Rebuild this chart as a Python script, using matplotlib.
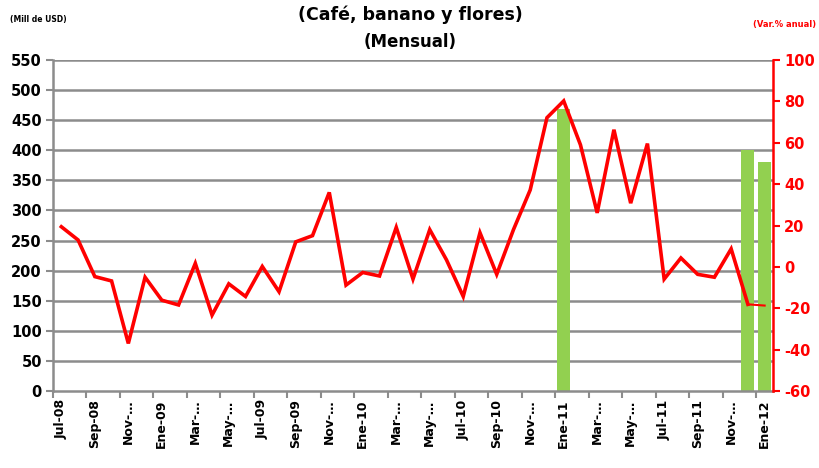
import numpy as np
import matplotlib
matplotlib.use("Agg")
import matplotlib.pyplot as plt
from matplotlib.ticker import FixedLocator

plt.rcParams["axes.unicode_minus"] = False

months = ["Jul-08","Ago-08","Sep-08","Oct-08","Nov-…","Dic-08","Ene-09","Feb-09","Mar-…","Abr-09",
          "May-…","Jun-09","Jul-09","Ago-09","Sep-09","Oct-09","Nov-…","Dic-09","Ene-10","Feb-10",
          "Mar-…","Abr-10","May-…","Jun-10","Jul-10","Ago-10","Sep-10","Oct-10","Nov-…","Dic-10",
          "Ene-11","Feb-11","Mar-…","Abr-11","May-…","Jun-11","Jul-11","Ago-11","Sep-11","Oct-11",
          "Nov-…","Dic-11","Ene-12"]

# Exports (Mill de USD) - only a few months shown as bars
exports = [np.nan]*30 + [469] + [np.nan]*10 + [400, 380]

# Annual variation (%)
var_anual = [19.4, 13.0, -4.7, -6.8, -37.0, -5.0, -16.1, -18.4, 1.7, -23.3,
             -8.2, -14.3, 0.2, -12.0, 12.1, 15.1, 36.0, -8.8, -2.7, -4.4,
             19.1, -5.9, 18.0, 3.4, -14.3, 16.5, -3.6, 18.0, 37.2, 72.1,
             80.2, 59.0, 26.1, 66.3, 30.8, 59.6, -5.9, 4.3, -3.6, -5.0,
             8.7, -18.1, -18.7]

left_ticks = list(range(0, 551, 50))
right_ticks = list(range(-60, 101, 20))

fig = plt.figure(figsize=(8.2, 4.68), dpi=100)
ax = fig.add_axes([0.0646, 0.1645, 0.8781, 0.7073])
x = np.arange(len(months))

grid_c = "#8c8c8c"
ax.set_ylim(0, 550)
ax.set_xlim(-0.5, len(months) - 0.5)
ax.set_yticks(left_ticks)
for t in left_ticks[1:]:
    ax.axhline(t, color=grid_c, lw=1.8, zorder=0)
ax.bar(x, exports, width=0.78, color="#92D050", zorder=2)

ax2 = ax.twinx()
ax2.set_ylim(-60, 100)
ax2.set_yticks(right_ticks)
n = len(var_anual)
ax2.plot(x[:n-1], var_anual[:n-1], color="#FF0000", lw=2.6, zorder=3, solid_joinstyle="miter")
ax2.plot(x[n-2:], var_anual[n-2:], color="#FF0000", lw=1.5, zorder=3)

# x ticks
ax.xaxis.set_major_locator(FixedLocator(x[::2]))
ax.set_xticklabels(months[::2], rotation=90, fontsize=9, fontweight="bold")
ax.xaxis.set_minor_locator(FixedLocator(np.arange(-0.5, len(months), 2)))
ax.tick_params(axis="x", which="major", length=0, pad=6)
ax.tick_params(axis="x", which="minor", length=5, width=1.5, color=grid_c, direction="out")

ax.tick_params(axis="y", length=5, width=1.5, color=grid_c, labelsize=10.5, pad=3)
for lab in ax.get_yticklabels():
    lab.set_fontweight("bold")
ax2.tick_params(axis="y", length=5, width=1.5, color="#FF0000", labelcolor="#FF0000", labelsize=10.5, pad=3)
for lab in ax2.get_yticklabels():
    lab.set_fontweight("bold")

for a in (ax, ax2):
    a.spines["top"].set_visible(False)
ax.spines["left"].set_color(grid_c)
ax.spines["left"].set_linewidth(1.8)
ax.spines["bottom"].set_color(grid_c)
ax.spines["bottom"].set_linewidth(1.8)
ax.spines["right"].set_visible(False)
ax2.spines["left"].set_visible(False)
ax2.spines["bottom"].set_visible(False)
ax2.spines["right"].set_color("#FF0000")
ax2.spines["right"].set_linewidth(1.8)

fig.text(0.50, 0.968, "(Café, banano y flores)", ha="center", va="center", fontsize=12.5, fontweight="bold")
fig.text(0.50, 0.91, "(Mensual)", ha="center", va="center", fontsize=12, fontweight="bold")
fig.text(0.012, 0.958, "(Mill de USD)", ha="left", va="center", fontsize=5.5, fontweight="bold")
fig.text(0.995, 0.948, "(Var.% anual)", ha="right", va="center", fontsize=6, fontweight="bold", color="#FF0000")

fig.savefig("out.png", dpi=100)
